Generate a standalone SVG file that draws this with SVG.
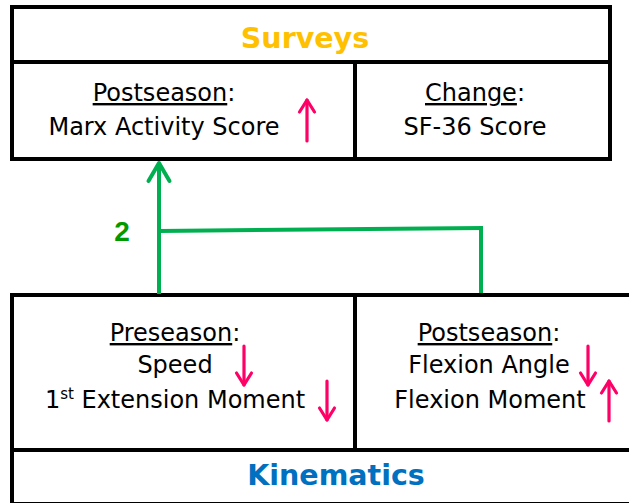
<svg xmlns="http://www.w3.org/2000/svg" width="629" height="503" viewBox="0 0 629 503">
  <style>
    .box { fill: #ffffff; stroke: #000000; stroke-width: 4; }
    .div { stroke: #000000; stroke-width: 4; fill: none; }
    .t { font-family: "DejaVu Sans", Verdana, sans-serif; font-size: 24px; fill: #000000; text-anchor: middle; }
    .title { font-family: "DejaVu Sans", Verdana, sans-serif; font-size: 28.5px; font-weight: bold; text-anchor: middle; }
    .u { text-decoration: underline; }
    .pink { stroke: #FF0066; stroke-width: 3.2; fill: none; stroke-linecap: round; marker-end: url(#pinkhead); }
    .conn { stroke: #00B050; stroke-width: 4; fill: none; }
    .lbl { font-family: "Liberation Sans", Arial, sans-serif; font-size: 28px; font-weight: bold; fill: #009A00; text-anchor: middle; }
  </style>
  <defs>
    <marker id="pinkhead" markerUnits="userSpaceOnUse" viewBox="-15 -10 20 20" refX="0" refY="0" markerWidth="20" markerHeight="20" orient="auto">
      <polyline points="-12,-7.5 0,0 -12,7.5" fill="none" stroke="#FF0066" stroke-width="3.2" stroke-linecap="round" stroke-linejoin="round"/>
    </marker>
    <marker id="greenhead" markerUnits="userSpaceOnUse" viewBox="-25 -15 30 30" refX="0" refY="0" markerWidth="30" markerHeight="30" orient="auto">
      <polyline points="-18,-10.5 0,0 -18,10.5" fill="none" stroke="#00B050" stroke-width="4" stroke-linecap="round" stroke-linejoin="round"/>
    </marker>
  </defs>

  <rect x="0" y="0" width="629" height="503" fill="#ffffff"/>

  <g id="surveys">
    <rect class="box" x="12" y="7" width="598" height="152"/>
    <line class="div" x1="12" y1="62" x2="610" y2="62"/>
    <line class="div" x1="355" y1="62" x2="355" y2="159"/>
    <text class="title" x="305" y="48" fill="#FFC000">Surveys</text>
  </g>

  <g id="surveys-postseason">
    <text class="t" x="164" y="101"><tspan class="u">Postseason</tspan>:</text>
    <text class="t" x="164" y="135">Marx Activity Score</text>
    <line class="pink" x1="307" y1="141" x2="307" y2="100"/>
  </g>

  <g id="surveys-change">
    <text class="t" x="475" y="101"><tspan class="u">Change</tspan>:</text>
    <text class="t" x="475" y="135">SF-36 Score</text>
  </g>

  <g id="kinematics">
    <rect class="box" x="12" y="295" width="640" height="209"/>
    <line class="div" x1="12" y1="450" x2="629" y2="450"/>
    <line class="div" x1="355" y1="295" x2="355" y2="450"/>
    <text class="title" x="336" y="485" fill="#0070C0">Kinematics</text>
  </g>

  <g id="kinematics-preseason">
    <text class="t" x="175" y="341"><tspan class="u">Preseason</tspan>:</text>
    <text class="t" x="175" y="373">Speed</text>
    <text class="t" x="175" y="408">1<tspan font-size="15" dy="-9">st</tspan><tspan dy="9"> Extension Moment</tspan></text>
    <line class="pink" x1="244" y1="346" x2="244" y2="385"/>
    <line class="pink" x1="327" y1="381" x2="327" y2="420"/>
  </g>

  <g id="kinematics-postseason">
    <text class="t" x="489" y="341"><tspan class="u">Postseason</tspan>:</text>
    <text class="t" x="489" y="373">Flexion Angle</text>
    <text class="t" x="490" y="408">Flexion Moment</text>
    <line class="pink" x1="588" y1="346" x2="588" y2="385"/>
    <line class="pink" x1="609" y1="421" x2="609" y2="381"/>
  </g>

  <g id="connectors">
    <line class="conn" x1="159" y1="294" x2="159" y2="163" marker-end="url(#greenhead)"/>
    <line class="conn" x1="159" y1="231" x2="483" y2="228"/>
    <line class="conn" x1="481" y1="226" x2="481" y2="293"/>
    <text class="lbl" x="122" y="241">2</text>
  </g>
</svg>
